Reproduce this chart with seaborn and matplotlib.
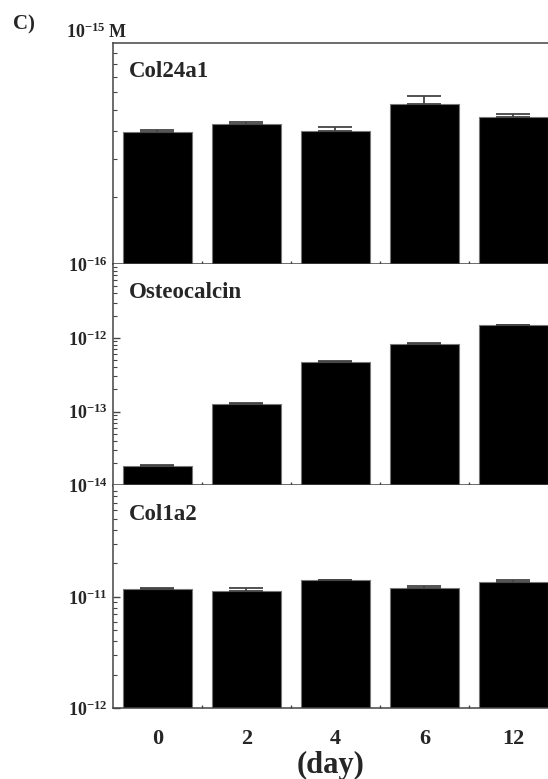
import numpy as np
import pandas as pd
import matplotlib
matplotlib.use('Agg')
import matplotlib.pyplot as plt
import seaborn as sns
from matplotlib.ticker import LogLocator, NullFormatter, FixedLocator

# values (molar concentration, log scale)
days = ["0", "2", "4", "6", "12"]

col24a1_mean = [3.96e-16, 4.29e-16, 4.00e-16, 5.29e-16, 4.61e-16]
col24a1_upper = [4.04e-16, 4.40e-16, 4.18e-16, 5.77e-16, 4.76e-16]

osteocalcin_mean = [1.83e-14, 1.28e-13, 4.77e-13, 8.26e-13, 1.48e-12]
osteocalcin_upper = [1.87e-14, 1.30e-13, 4.85e-13, 8.40e-13, 1.51e-12]

col1a2_mean = [1.17e-11, 1.14e-11, 1.41e-11, 1.21e-11, 1.36e-11]
col1a2_upper = [1.21e-11, 1.19e-11, 1.42e-11, 1.26e-11, 1.42e-11]

panel_names = ["Col24a1", "Osteocalcin", "Col1a2"]
panel_ylims = [(1e-16, 1e-15), (1e-14, 1e-11), (1e-12, 1e-10)]
panel_yticks = [[1e-16], [1e-14, 1e-13, 1e-12], [1e-12, 1e-11]]
panel_yticklabels = [[r"$\mathbf{10^{-16}}$"],
                     [r"$\mathbf{10^{-14}}$", r"$\mathbf{10^{-13}}$", r"$\mathbf{10^{-12}}$"],
                     [r"$\mathbf{10^{-12}}$", r"$\mathbf{10^{-11}}$"]]
means = [col24a1_mean, osteocalcin_mean, col1a2_mean]
uppers = [col24a1_upper, osteocalcin_upper, col1a2_upper]

sns.set_style("ticks")
plt.rcParams['font.family'] = ['Liberation Serif', 'DejaVu Serif']
plt.rcParams['font.weight'] = 'bold'
plt.rcParams['mathtext.fontset'] = 'custom'
plt.rcParams['mathtext.rm'] = 'Liberation Serif:bold'
plt.rcParams['mathtext.bf'] = 'Liberation Serif:bold'
plt.rcParams['mathtext.it'] = 'Liberation Serif:bold:italic'

fig = plt.figure(figsize=(5.48, 7.79), dpi=100)

# axes boxes in figure fractions (left, bottom, width, height)
left = 113 / 548
width = 1 - left
boxes = [
    (left, 1 - 264 / 779, width, 221 / 779),
    (left, 1 - 485.5 / 779, width, 221.5 / 779),
    (left, 1 - 708.3 / 779, width, 222.8 / 779),
]

spine_col = "#444444"

for i in range(3):
    ax = fig.add_axes(boxes[i])
    df = pd.DataFrame({"day": days, "conc": means[i]})
    ax.set_yscale("log")
    sns.barplot(data=df, x="day", y="conc", order=days, color="black",
                saturation=1, width=0.776, edgecolor="#777777", linewidth=0.8,
                errorbar=None, ax=ax)
    yerr_up = np.array(uppers[i]) - np.array(means[i])
    ax.errorbar(np.arange(len(days)), means[i],
                yerr=[np.zeros(len(days)), yerr_up], fmt="none",
                ecolor=spine_col, elinewidth=1.3, capsize=12.5, capthick=1.3,
                zorder=1)

    ax.set_ylim(*panel_ylims[i])
    ax.set_xlim(-0.5, 4.39)

    ax.yaxis.set_major_locator(FixedLocator(panel_yticks[i]))
    ax.set_yticklabels(panel_yticklabels[i], fontsize=13)
    ax.yaxis.set_minor_locator(LogLocator(base=10, subs=np.arange(2, 10)))
    ax.yaxis.set_minor_formatter(NullFormatter())
    ax.tick_params(axis="y", which="major", direction="in", length=5,
                   width=1, color=spine_col, pad=4)
    ax.tick_params(axis="y", which="minor", direction="in", length=3,
                   width=0.8, color=spine_col)

    # x: labels at categories, small inward marks between bars
    ax.set_xticks(range(len(days)))
    ax.tick_params(axis="x", which="major", length=0, pad=15)
    ax.set_xticks(np.arange(0.5, 4, 1), minor=True)
    ax.tick_params(axis="x", which="minor", direction="in", length=2,
                   width=1, color=spine_col)
    if i < 2:
        ax.set_xticklabels([])
    else:
        ax.set_xticklabels(days, fontsize=16, fontweight="bold")
    ax.set_xlabel("(day)" if i == 2 else "", fontsize=22, fontweight="bold",
                  labelpad=1)
    ax.set_ylabel("")

    for s in ["left", "bottom", "top"]:
        ax.spines[s].set_color(spine_col)
        ax.spines[s].set_linewidth(1.1)
    ax.spines["right"].set_visible(False)
    if i > 0:
        ax.spines["top"].set_visible(False)

    ax.text(0.037, 0.918, panel_names[i], transform=ax.transAxes,
            fontsize=16.5, fontweight="bold", ha="left", va="top")

fig.text(127 / 548, 1 - 38 / 779, r"$\mathbf{10^{-15}}$ M", fontsize=13,
         fontweight="bold", ha="right", va="baseline")
fig.text(13 / 548, 1 - 29 / 779, "C)", fontsize=15, fontweight="bold",
         ha="left", va="baseline")

fig.savefig("out.png", dpi=100)
